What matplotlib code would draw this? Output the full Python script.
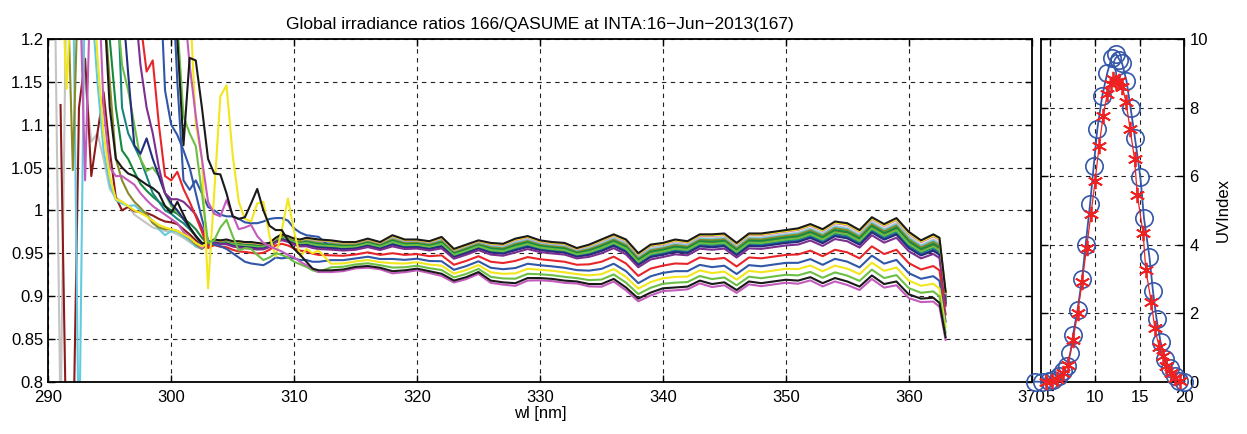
import numpy as np
import matplotlib
matplotlib.use("Agg")
import matplotlib.pyplot as plt

plt.rcParams["font.family"] = ["Liberation Sans", "DejaVu Sans"]

# wavelength grid [nm]: 0.5 nm up to 312, then 1 nm, plus the last half step
WL = np.concatenate([np.arange(290, 312.5, 0.5), np.arange(313, 363), [362.5, 363]])

# upper envelope of the line bundle from 303 nm on
TOP = [0.962, 0.966, 0.965, 0.966, 0.964, 0.964, 0.963, 0.963, 0.962, 0.961,
       0.962, 0.968, 0.972, 0.970, 0.967, 0.966, 0.968, 0.967, 0.966,
       0.965, 0.963, 0.963, 0.967, 0.963, 0.971, 0.966, 0.966, 0.964, 0.969,
       0.955, 0.960, 0.965, 0.962, 0.961, 0.967, 0.970, 0.965, 0.963, 0.962,
       0.956, 0.960, 0.966, 0.972, 0.966, 0.950, 0.960, 0.962, 0.966, 0.964,
       0.972, 0.972, 0.973, 0.962, 0.973, 0.973, 0.975, 0.977, 0.979, 0.984,
       0.978, 0.987, 0.985, 0.977, 0.992, 0.984, 0.991, 0.975, 0.965, 0.972,
       0.968, 0.905]
# lower envelope (bottom black line) from 303 nm on
LOW = [0.950, 0.953, 0.950, 0.948, 0.944, 0.940, 0.940, 0.938, 0.937, 0.940,
       0.946, 0.950, 0.950, 0.948, 0.944, 0.940, 0.936, 0.932, 0.930,
       0.930, 0.931, 0.934, 0.935, 0.933, 0.929, 0.930, 0.932, 0.929, 0.926,
       0.918, 0.922, 0.928, 0.918, 0.916, 0.915, 0.921, 0.921, 0.920, 0.918,
       0.917, 0.914, 0.914, 0.920, 0.910, 0.897, 0.904, 0.909, 0.910, 0.911,
       0.918, 0.914, 0.916, 0.907, 0.917, 0.915, 0.917, 0.919, 0.918, 0.922,
       0.915, 0.921, 0.917, 0.911, 0.924, 0.914, 0.917, 0.902, 0.897, 0.898,
       0.892, 0.852]

# noisy short-wavelength part of each scan (0.5 nm steps from 290), values > 1.2 are off-axis
HEAD_GRAY = [1.3, 1.3, 0.75, 1.3, 1.3, 1.25, 1.15, 1.08, 1.09, 1.06, 1.025, 1.015, 1.01,
             1.005, 0.995, 0.99, 0.985, 0.98, 0.978, 0.976, 0.975, 0.972, 0.968, 0.963, 0.958, 0.955]
HEAD_DARKRED = [np.nan, np.nan, 1.123, 0.7, 0.7, 1.12, 1.177, 1.04, 1.09, 1.138, 1.07, 1.015, 1.0,
                1.004, 0.999, 0.998, 0.997, 0.994, 0.99, 0.987, 0.986, 0.984, 0.978, 0.972, 0.965, 0.958]
HEAD_CYAN = [1.3, 1.3, 1.3, 1.3, 1.3, 0.7, 1.3, 1.25, 1.15, 1.07, 1.03, 1.012, 1.008,
             1.005, 1.006, 1.0, 0.995, 0.988, 0.978, 0.971, 0.976, 0.975, 0.97, 0.965, 0.958, 0.955]
HEAD_OLIVE = [1.3, 1.3, 1.3, 1.3, 1.047, 1.3, 1.3, 1.3, 1.3, 1.25, 1.15, 1.06, 1.035,
              1.02, 1.01, 1.003, 0.995, 0.985, 0.98, 0.978, 0.978, 0.976, 0.972, 0.967, 0.96, 0.955]
HEAD_YELLOW1 = [1.3, 1.3, 1.3, 1.142, 1.3, 1.3, 1.3, 1.3, 1.18, 1.09, 1.04, 1.013, 1.01,
                1.005, 1.0, 0.997, 0.993, 0.988, 0.983, 0.98, 0.978, 0.976, 0.972, 0.968, 0.962, 0.958]
HEAD_MAGENTA1 = [1.3, 1.3, 1.3, 1.3, 1.3, 1.3, 1.035, 1.3, 1.3, 1.12, 1.05, 1.04, 1.04,
                 1.035, 1.03, 1.02, 1.012, 1.005, 1.0, 0.995, 0.99, 0.985, 0.975, 0.968, 0.962, 0.956]
HEAD_BLACK1 = [1.3, 1.3, 1.3, 1.3, 1.3, 1.3, 1.3, 1.3, 1.3, 1.25, 1.12, 1.06, 1.05,
               1.043, 1.04, 1.035, 1.03, 1.026, 1.02, 1.005, 0.997, 1.01, 0.995, 0.98, 0.97, 0.962]
HEAD_DKGREEN = [1.3, 1.3, 1.3, 1.3, 1.3, 1.3, 1.3, 1.3, 1.3, 1.3, 1.2, 1.12, 1.07,
                1.06, 1.045, 1.031, 1.023, 1.016, 1.01, 1.005, 1.0, 0.996, 0.99, 0.985, 0.978, 0.968]
HEAD_TEAL = [1.3, 1.3, 1.3, 1.3, 1.3, 1.3, 1.3, 1.3, 1.3, 1.3, 1.3, 1.3, 1.12,
             1.09, 1.075, 1.06, 1.04, 1.02, 1.01, 1.0, 0.996, 0.99, 0.985, 0.978, 0.97, 0.962]
HEAD_LTGREEN1 = [1.3, 1.3, 1.3, 1.3, 1.3, 1.3, 1.3, 1.3, 1.3, 1.3, 1.3, 1.25, 1.17,
                 1.14, 1.1, 1.06, 1.046, 1.05, 1.04, 1.02, 1.005, 0.998, 0.99, 0.98, 0.97, 0.96]
HEAD_NAVY = [1.3, 1.3, 1.3, 1.3, 1.3, 1.3, 1.3, 1.3, 1.3, 1.3, 1.3, 1.3, 1.25,
             1.16, 1.076, 1.066, 1.084, 1.06, 1.04, 1.02, 1.008, 1.0, 0.99, 0.98, 0.97, 0.96]
HEAD_PURPLE = [1.3, 1.3, 1.3, 1.3, 1.3, 1.3, 1.3, 1.3, 1.3, 1.3, 1.3, 1.3, 1.3,
               1.3, 1.25, 1.17, 1.12, 1.09, 1.05, 1.02, 1.013, 1.013, 1.01, 1.003, 0.995, 0.98]
HEAD_RED = [1.3, 1.3, 1.3, 1.3, 1.3, 1.3, 1.3, 1.3, 1.3, 1.3, 1.3, 1.3, 1.3,
            1.3, 1.3, 1.22, 1.162, 1.175, 1.1, 1.04, 1.035, 1.045, 1.025, 1.01, 0.993, 0.975]
# late scans: noisy part reaches up to 312 nm
HEAD_BLUE_LOW = [1.3, 1.3, 1.3, 1.3, 1.3, 1.3, 1.3, 1.3, 1.3, 1.3, 1.3, 1.3, 1.3,
                 1.3, 1.3, 1.3, 1.3, 1.3, 1.3, 1.14, 1.1, 1.088, 1.07, 1.05, 1.02, 0.99,
                 0.965, 0.96, 0.958, 0.955, 0.95, 0.945, 0.94, 0.938, 0.937, 0.936,
                 0.94, 0.945, 0.944, 0.945, 0.944, 0.942, 0.942, 0.94, 0.94]
HEAD_BLUE_TOP = [1.3, 1.3, 1.3, 1.3, 1.3, 1.3, 1.3, 1.3, 1.3, 1.3, 1.3, 1.3, 1.3,
                 1.3, 1.3, 1.3, 1.3, 1.3, 1.3, 1.3, 1.3, 1.15, 1.035, 1.024, 1.035, 1.02,
                 1.004, 1.0, 0.995, 0.993, 0.993, 0.99, 0.986, 0.985, 0.985, 0.987,
                 0.99, 0.991, 0.991, 0.988, 0.979, 0.974, 0.971, 0.97, 0.969]
HEAD_BLACK2 = [1.3, 1.3, 1.3, 1.3, 1.3, 1.3, 1.3, 1.3, 1.3, 1.3, 1.3, 1.3, 1.3,
               1.3, 1.3, 1.3, 1.3, 1.3, 1.3, 1.3, 1.3, 1.2, 1.076, 1.178, 1.175, 1.12,
               1.06, 1.043, 1.042, 1.02, 0.993, 0.99, 0.992, 1.008, 1.025, 1.0,
               0.982, 0.977, 0.977, 0.965, 0.955, 0.948, 0.94, 0.932, 0.93]
HEAD_YELLOW2 = [1.3, 1.3, 1.3, 1.3, 1.3, 1.3, 1.3, 1.3, 1.3, 1.3, 1.3, 1.3, 1.3,
                1.3, 1.3, 1.3, 1.3, 1.3, 1.3, 1.3, 1.3, 1.3, 1.3, 1.25, 1.1, 1.06,
                0.909, 1.02, 1.133, 1.146, 1.065, 1.01, 0.99, 0.987, 1.008, 1.01,
                0.97, 0.946, 0.977, 1.014, 0.975, 0.946, 0.955, 0.95, 0.953]
HEAD_MAGENTA2 = [1.3, 1.3, 1.3, 1.3, 1.3, 1.3, 1.3, 1.3, 1.3, 1.3, 1.3, 1.3, 1.3,
                 1.3, 1.3, 1.3, 1.3, 1.3, 1.3, 1.3, 1.3, 1.3, 1.25, 1.17, 1.11, 1.06,
                 1.01, 0.996, 0.993, 1.012, 0.995, 0.978, 0.98, 0.983, 0.97, 0.962,
                 0.958, 0.955, 0.952, 0.948, 0.945, 0.94, 0.936, 0.932, 0.928]
HEAD_LTGREEN2 = [1.3, 1.3, 1.3, 1.3, 1.3, 1.3, 1.3, 1.3, 1.3, 1.3, 1.3, 1.3, 1.3,
                 1.3, 1.3, 1.3, 1.3, 1.3, 1.3, 1.3, 1.3, 1.22, 1.11, 1.09, 1.075, 1.02,
                 0.962, 0.965, 0.98, 0.989, 0.97, 0.953, 0.956, 0.955, 0.948, 0.942,
                 0.945, 0.95, 0.948, 0.945, 0.94, 0.937, 0.934, 0.93, 0.928]

# (noisy head, position of the flat part between TOP (0) and LOW (1), colour)
SCANS = [
    (HEAD_GRAY,     0.08, "#c4c4c4"),
    (HEAD_DARKRED,  0.17, "#8c1a1a"),
    (HEAD_CYAN,     0.10, "#62cbe2"),
    (HEAD_OLIVE,    0.12, "#8a8a28"),
    (HEAD_BLUE_TOP, 0.24, "#3057a8"),
    (HEAD_DKGREEN,  0.15, "#158a3e"),
    (HEAD_TEAL,     0.21, "#18857f"),
    (HEAD_LTGREEN1, 0.19, "#6cbf45"),
    (HEAD_NAVY,     0.26, "#252d7e"),
    (HEAD_PURPLE,   0.31, "#7d2f8f"),
    (HEAD_MAGENTA1, 0.03, "#c35bbd"),
    (HEAD_YELLOW1,  0.02, "#f2e61c"),
    (HEAD_BLACK1,   0.00, "#1a1a1a"),
    (HEAD_RED,      0.50, "#e8262a"),
    (HEAD_BLUE_LOW, 0.66, "#3057a8"),
    (HEAD_YELLOW2,  0.78, "#f2e61c"),
    (HEAD_LTGREEN2, 0.90, "#6cbf45"),
    (HEAD_MAGENTA2, 1.06, "#c35bbd"),
    (HEAD_BLACK2,   1.00, "#1a1a1a"),
]

# UV index through the day (UTC hours)
T_QASUME = [3.4, 4.1, 4.9, 5.4, 6.0, 6.5, 6.9, 7.3, 7.6, 8.1, 8.6, 9.0, 9.5, 9.9, 10.3,
            10.85, 11.4, 11.9, 12.4, 12.75, 13.05, 13.55, 14.0, 14.5, 15.1, 15.5, 16.1,
            16.5, 16.9, 17.35, 17.85, 18.35, 18.9, 19.45, 20.0]
UV_QASUME = [0.0, 0.0, 0.02, 0.06, 0.16, 0.3, 0.45, 0.84, 1.37, 2.1, 3.0, 4.0, 5.2, 6.3, 7.37,
             8.34, 9.0, 9.46, 9.56, 9.4, 9.3, 8.78, 8.0, 7.1, 5.96, 4.77, 3.65,
             2.64, 1.83, 1.15, 0.66, 0.4, 0.18, 0.02, 0.0]
T_166 = [4.6, 5.2, 5.8, 6.5, 7.0, 7.6, 8.1, 8.6, 9.1, 9.6, 10.05, 10.5, 10.95, 11.4, 11.85,
         12.1, 12.4, 12.75, 13.1, 13.5, 13.95, 14.45, 14.75, 15.4, 15.7, 16.3, 16.7, 17.2,
         17.6, 18.0, 18.5, 19.0, 19.5]
UV_166 = [0.0, 0.02, 0.08, 0.25, 0.5, 1.22, 2.0, 2.9, 3.9, 4.9, 5.85, 6.88, 7.76, 8.39, 8.7,
          8.83, 8.75, 8.78, 8.6, 8.15, 7.37, 6.49, 5.46, 4.34, 3.27, 2.34, 1.56, 1.0,
          0.75, 0.45, 0.25, 0.1, 0.02]

YTICKS = [0.8, 0.85, 0.9, 0.95, 1, 1.05, 1.1, 1.15, 1.2]
YTICKLABELS = ["0.8", "0.85", "0.9", "0.95", "1", "1.05", "1.1", "1.15", "1.2"]

GRID = dict(color="#222", lw=0.8, ls=(0, (4, 4)))


def style(ax):
    ax.tick_params(direction="in", top=True, right=True, length=5, width=1, labelsize=12)
    ax.tick_params(axis="x", pad=6)
    for sp in ax.spines.values():
        sp.set_linewidth(1.3)
    ax.grid(True, **GRID)
    ax.set_axisbelow(True)


fig = plt.figure(figsize=(12.47, 4.34), dpi=100)
ax = fig.add_axes([0.0387, 0.1205, 0.7886, 0.7896])
ax2 = fig.add_axes([0.8346, 0.1205, 0.1152, 0.7896])

top = np.array(TOP)
low = np.array(LOW)
n0 = len(WL) - len(top)  # index of 303 nm
for head, w, col in SCANS:
    flat = top + w * (low - top)
    y = np.concatenate([head, flat[len(head) - n0:]])
    ax.plot(WL, y, color=col, lw=1.5)

ax.set_xlim(290, 370)
ax.set_ylim(0.8, 1.2)
ax.set_xticks(range(290, 371, 10))
ax.set_yticks(YTICKS)
ax.set_yticklabels(YTICKLABELS)
style(ax)
ax.set_xlabel("wl [nm]", fontsize=12, labelpad=1)
ax.set_title("Global irradiance ratios 166/QASUME at INTA:16\u2212Jun\u22122013(167)",
             fontsize=12.5, pad=7)

ax2.plot(T_QASUME, UV_QASUME, color="#3457a9", lw=1.3, marker="o", ms=12.5,
         mfc="none", mec="#3457a9", mew=1.2, clip_on=False, zorder=3)
ax2.plot(T_166, UV_166, color="#ee2222", lw=0.9, marker=(6, 2, 0), ms=11,
         mec="#ee2222", mew=1.3, clip_on=False, zorder=4)
ax2.set_xlim(4, 20)
ax2.set_ylim(0, 10)
ax2.set_xticks([5, 10, 15, 20])
ax2.set_yticks(range(0, 11, 2))
style(ax2)
ax2.yaxis.tick_right()
ax2.tick_params(left=True, labelleft=False, labelright=True)
ax2.yaxis.set_label_position("right")
ax2.set_ylabel("UVIndex", fontsize=12, labelpad=6)

fig.savefig("out.png", dpi=100)
